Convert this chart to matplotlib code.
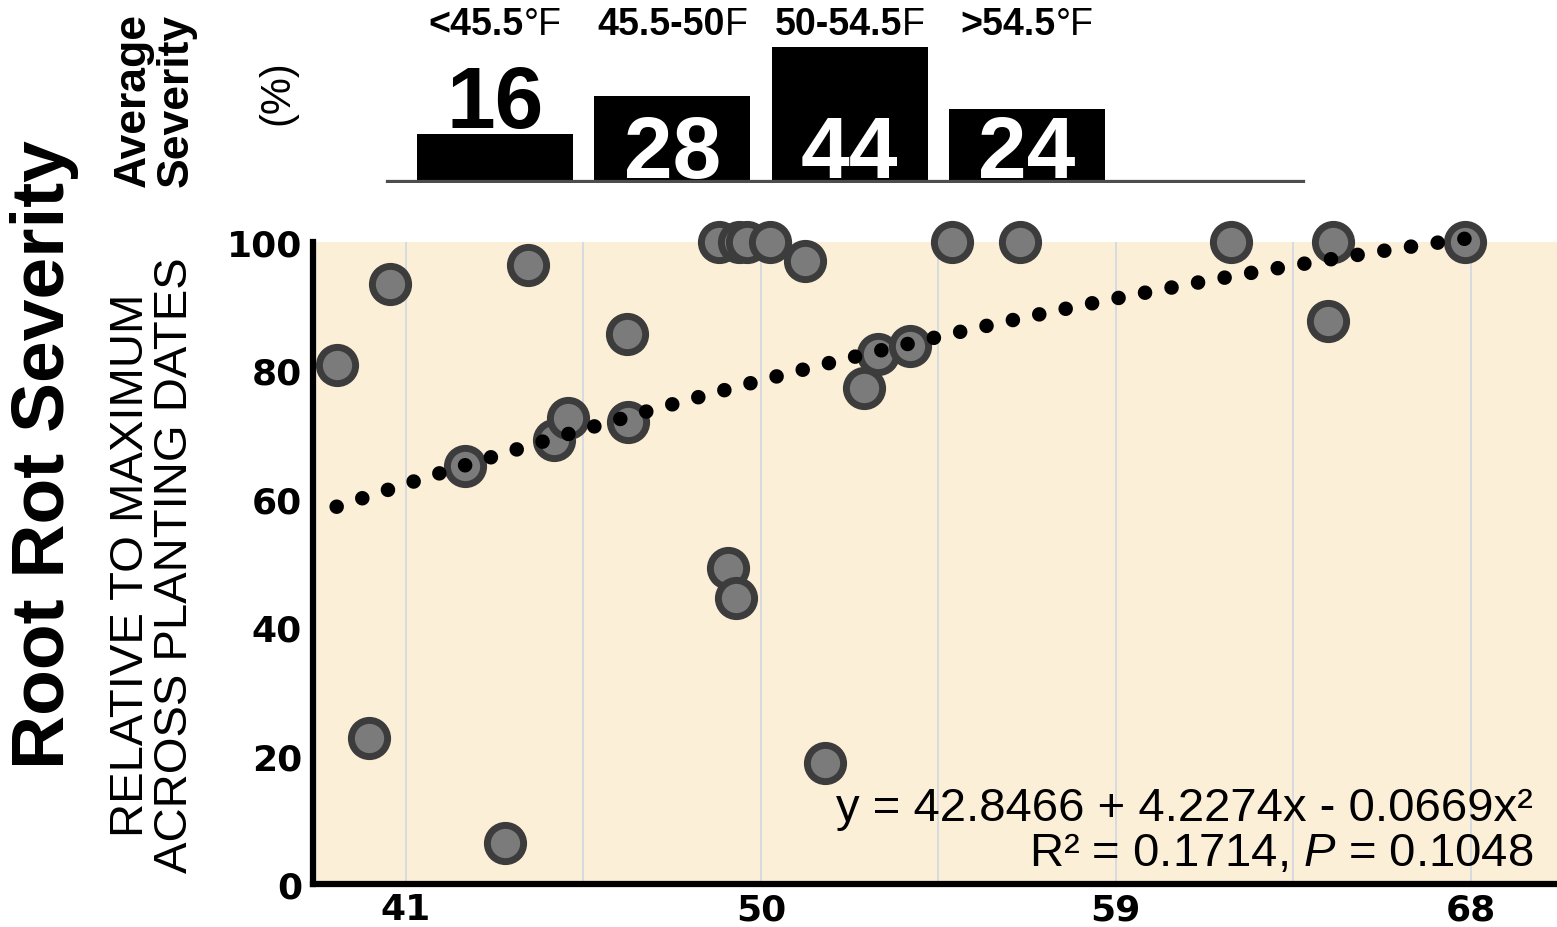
import numpy as np
import matplotlib
matplotlib.use('Agg')
from matplotlib import pyplot as plt
from matplotlib import transforms

plt.rcParams['font.family'] = ['Liberation Sans', 'DejaVu Sans']
plt.rcParams['mathtext.fontset'] = 'custom'
plt.rcParams['mathtext.rm'] = 'Liberation Sans'
plt.rcParams['mathtext.it'] = 'Liberation Sans:italic'

# Soil temperature at planting (F) vs root rot severity (% of max)
temp_f = [39.24, 40.07, 40.6, 42.5, 43.52, 44.09, 44.75, 45.11, 46.61, 46.64,
          48.93, 49.17, 49.36, 49.45, 49.65, 50.24, 51.11, 51.62, 52.61, 52.98,
          53.78, 54.85, 56.58, 61.91, 64.38, 64.52, 67.86]
severity = [80.8, 22.7, 93.5, 65.1, 6.4, 96.4, 69.2, 72.6, 85.7, 71.9,
            100, 49.2, 44.5, 100, 100, 100, 97.0, 18.8, 77.2, 82.6,
            83.8, 100, 100, 100, 87.7, 100, 100]

# Average severity per temperature class
bin_nums = ['<45.5', '45.5-50', '50-54.5', '>54.5']
bin_units = ['°F', 'F', 'F', '°F']
bin_edges = [41, 45.5, 50, 54.5, 59]
avg_severity = [16, 28, 44, 24]

# Quadratic fit (x in deg C)
fit_coef = [42.8466, 4.2274, -0.0669]
eq_line1 = 'y = 42.8466 + 4.2274x - 0.0669x²'
eq_line2 = r'R² = 0.1714, $P$ = 0.1048'

x_major = [41, 50, 59, 68]
x_minor = [45.5, 54.5, 63.5]
y_ticks = [0, 20, 40, 60, 80, 100]

W, H = 1557, 928
fig = plt.figure(figsize=(W / 100, H / 100), dpi=100)
renderer = fig.canvas.get_renderer()

# main scatter panel
ax = fig.add_axes([313 / W, 1 - 885 / H, (W - 313) / W, 642 / H])
ax.set_facecolor('#fcefd7')
xlim = (38.64, 70.19)
ax.set_xlim(*xlim)
ax.set_ylim(0, 100)

ax.scatter(temp_f, severity, s=680, color='#7b7b7b', edgecolor='#3c3c3c',
           linewidth=5, zorder=3, clip_on=False)

# trend line from the reported equation
xs = np.linspace(min(temp_f), max(temp_f), 300)
cs = (xs - 32) / 1.8
ys = fit_coef[0] + fit_coef[1] * cs + fit_coef[2] * cs ** 2
ax.plot(xs, ys, color='black', linewidth=10.5, linestyle=(0, (0.001, 1.85)),
        dash_capstyle='round', zorder=4, clip_on=False)

ax.set_xticks(x_major)
ax.set_xticks(x_minor, minor=True)
ax.set_yticks(y_ticks)
ax.grid(axis='x', which='both', color='#d4d8df', linewidth=1.3, zorder=0)
ax.set_axisbelow(True)
ax.tick_params(which='both', length=0)
ax.tick_params(axis='x', pad=6)
ax.tick_params(axis='y', pad=8)
for lbl in ax.get_xticklabels() + ax.get_yticklabels():
    lbl.set_family('DejaVu Sans')
    lbl.set_fontweight('bold')
    lbl.set_fontsize(26)
for side in ['top', 'right']:
    ax.spines[side].set_visible(False)
for side in ['left', 'bottom']:
    ax.spines[side].set_linewidth(4.5)
    ax.spines[side].set_color('black')
    ax.spines[side].set_capstyle('projecting')

ax.text(0.981, 0.100, eq_line1, transform=ax.transAxes, ha='right',
        va='baseline', fontsize=34)
ax.text(0.981, 0.030, eq_line2, transform=ax.transAxes, ha='right',
        va='baseline', fontsize=34)

# average severity bars on top
axt = fig.add_axes([313 / W, 1 - 184 / H, (W - 313) / W, 184 / H])
axt.set_xlim(*xlim)
axt.set_ylim(0, 59.5)
axt.axis('off')
centers = [(a + b) / 2 for a, b in zip(bin_edges[:-1], bin_edges[1:])]
axt.bar(centers, avg_severity, width=3.96, color='black', zorder=2)
axt.axhline(0, xmin=0.061, xmax=0.795, color='#4d4d4d', linewidth=4.5,
            zorder=3)
trans = transforms.blended_transform_factory(axt.transData, axt.transAxes)
for c, v, num, unit in zip(centers, avg_severity, bin_nums, bin_units):
    # bold number part + regular unit, centred together over the bar
    t_num = axt.text(c, 0.865, num, transform=trans, ha='center',
                     va='center', fontsize=27, fontweight='bold')
    t_unit = axt.annotate(unit, xy=(1, 0), xycoords=t_num, ha='left',
                          va='bottom', fontsize=27)
    w_unit = t_unit.get_window_extent(renderer).width
    t_num.set_transform(trans + transforms.ScaledTranslation(
        -w_unit / 2 / fig.dpi, 0, fig.dpi_scale_trans))
    if v >= 20:
        axt.text(c, 2, str(v), ha='center', va='baseline', fontsize=63,
                 fontweight='bold', color='white', zorder=4)
    else:
        axt.text(c, v + 2, str(v), ha='center', va='baseline', fontsize=63,
                 fontweight='bold', color='black', zorder=4)

# side labels
fig.text(45 / W, 1 - 455 / H, 'Root Rot Severity', rotation=90,
         ha='center', va='center', fontsize=54, fontweight='bold')
fig.text(153 / W, 1 - 565 / H, 'RELATIVE TO MAXIMUM\nACROSS PLANTING DATES',
         rotation=90, ha='center', va='center', fontsize=34,
         linespacing=1.0, multialignment='center')
fig.text(155 / W, 1 - 100 / H, 'Average\nSeverity', rotation=90,
         ha='center', va='center', fontsize=32, fontweight='bold',
         linespacing=1.05, multialignment='left')
fig.text(277 / W, 1 - 93 / H, '(%)', rotation=90, ha='center', va='center',
         fontsize=30)

fig.savefig('out.png', dpi=100, facecolor='white')
